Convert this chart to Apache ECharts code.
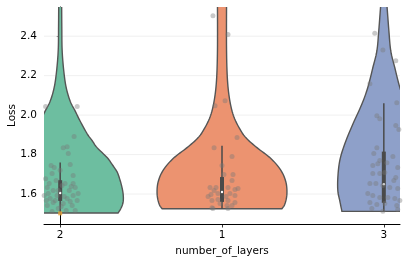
<!DOCTYPE html>
<html><head><meta charset="utf-8">
<script src="https://cdn.jsdelivr.net/npm/echarts@6/dist/echarts.min.js"></script>
<style>html,body{margin:0;padding:0;background:#fff}#c{width:407px;height:262px}</style>
</head><body><div id="c"></div>
<script>
// ---- data ----
const categories = ['2', '1', '3'];
const yTicks = [1.6, 1.8, 2.0, 2.2, 2.4];

// violin density outlines: [loss value, half width in category units]
const violin2 = [[1.504,0.358],[1.53,0.377],[1.56,0.389],[1.6,0.389],[1.65,0.377],[1.7,0.358],[1.72,0.346],[1.75,0.321],[1.785,0.29],[1.835,0.228],[1.87,0.198],[1.905,0.167],[1.97,0.123],[2.02,0.093],[2.07,0.062],[2.14,0.037],[2.225,0.022],[2.33,0.012],[2.45,0.01],[2.56,0.009]];
const violin1 = [[1.525,0.37],[1.55,0.389],[1.6,0.401],[1.66,0.395],[1.72,0.364],[1.78,0.302],[1.835,0.216],[1.88,0.154],[1.92,0.117],[1.99,0.074],[2.07,0.049],[2.175,0.034],[2.33,0.028],[2.56,0.028]];
const violin3 = [[1.512,0.259],[1.565,0.272],[1.615,0.284],[1.685,0.284],[1.77,0.272],[1.855,0.241],[1.955,0.191],[2.055,0.136],[2.14,0.099],[2.24,0.068],[2.325,0.043],[2.43,0.031],[2.56,0.019]];

// box stats per category (order of categories)
const boxLow  = [1.504, 1.525, 1.512];
const boxQ1   = [1.565, 1.56, 1.555];
const boxMed  = [1.605, 1.61, 1.65];
const boxQ3   = [1.67, 1.686, 1.815];
const boxHigh = [1.76, 1.845, 2.06];

// jittered points: [offset from category centre, loss]
const points2 = [[-0.09,2.043],[0.105,2.043],[0.086,1.891],[0.019,1.835],[0.043,1.84],[0.05,1.805],[0.062,1.75],[-0.056,1.744],[-0.037,1.734],[-0.05,1.704],[0.08,1.694],[-0.09,1.678],[-0.025,1.668],[0.03,1.653],[0.08,1.653],[0.093,1.633],[-0.08,1.633],[-0.043,1.618],[0.056,1.618],[-0.074,1.603],[-0.019,1.592],[0.08,1.592],[-0.062,1.577],[0.043,1.577],[0.105,1.567],[-0.043,1.557],[0.019,1.552],[0.074,1.542],[-0.08,1.542],[-0.012,1.527],[0.093,1.516],[-0.05,1.511],[0.012,1.643],[-0.012,1.618],[0.025,1.587],[-0.031,1.567],[0.062,1.562],[0.006,1.537],[0.037,1.516],[-0.068,1.653],[0.068,1.638],[0.0,1.72],[-0.099,1.592],[0.111,1.603],[-0.086,1.567]];
const points1 = [[-0.056,2.504],[0.037,2.408],[0.019,2.073],[-0.043,2.048],[0.093,1.886],[-0.049,1.835],[0.062,1.79],[0.0,1.744],[0.012,1.699],[0.068,1.699],[0.062,1.668],[-0.074,1.633],[-0.037,1.633],[0.037,1.633],[0.08,1.623],[0.099,1.628],[-0.068,1.597],[-0.025,1.603],[0.049,1.603],[0.08,1.592],[-0.062,1.567],[-0.025,1.572],[0.037,1.567],[0.08,1.557],[-0.056,1.527],[0.031,1.542],[0.062,1.542],[-0.062,1.53],[0.037,1.527],[-0.049,1.618],[0.025,1.587],[-0.012,1.552],[-0.086,1.587]];
const points3 = [[-0.056,2.415],[-0.006,2.33],[0.074,2.275],[-0.086,2.159],[0.08,2.063],[-0.043,1.997],[-0.025,1.982],[0.074,1.947],[0.093,1.927],[-0.043,1.835],[-0.062,1.805],[0.056,1.79],[-0.025,1.77],[-0.068,1.744],[-0.037,1.754],[0.019,1.759],[0.086,1.734],[-0.068,1.704],[-0.025,1.704],[0.006,1.709],[0.074,1.684],[0.062,1.668],[-0.086,1.653],[-0.049,1.653],[-0.006,1.643],[0.037,1.633],[0.086,1.628],[-0.099,1.603],[-0.068,1.592],[-0.025,1.582],[0.025,1.582],[0.068,1.577],[0.099,1.567],[-0.086,1.557],[-0.043,1.547],[0.006,1.552],[0.08,1.542],[-0.006,1.513],[0.086,1.522],[-0.074,1.527]];
const flierPoint = [[0, 1.502]];

// ---- rendering ----
const violins = [violin2, violin1, violin3];
const pointSets = [points2, points1, points3];
const colors = ['#6dbea0', '#ec9370', '#8ea0c9'];

function spline(pts) {
  if (pts.length < 3) return pts;
  const out = [];
  for (let i = 0; i < pts.length - 1; i++) {
    const p0 = pts[Math.max(0, i - 1)], p1 = pts[i], p2 = pts[i + 1], p3 = pts[Math.min(pts.length - 1, i + 2)];
    const n = 8;
    for (let k = 0; k < n; k++) {
      const t = k / n, t2 = t * t, t3 = t2 * t;
      const f = (a, b, c, d) => 0.5 * ((2 * b) + (-a + c) * t + (2 * a - 5 * b + 4 * c - d) * t2 + (-a + 3 * b - 3 * c + d) * t3);
      out.push([f(p0[0], p1[0], p2[0], p3[0]), f(p0[1], p1[1], p2[1], p3[1])]);
    }
  }
  out.push(pts[pts.length - 1]);
  return out;
}

const scatterData = [];
pointSets.forEach((set, i) => set.forEach(p => scatterData.push([i + p[0], p[1]])));

const boxData = categories.map((c, i) => [i, boxLow[i], boxQ1[i], boxMed[i], boxQ3[i], boxHigh[i]]);

const FONT = 'DejaVu Sans';
const chart = echarts.init(document.getElementById('c'), null, {renderer: 'canvas'});
chart.setOption({
  animation: false,
  backgroundColor: '#fff',
  grid: {left: 44, top: 7, width: 356, height: 217, containLabel: false, outerBoundsMode: 'none'},
  xAxis: {
    type: 'value', min: -0.1, max: 2.1,
    name: 'number_of_layers', nameLocation: 'middle', nameGap: 20,
    nameTextStyle: {fontFamily: FONT, fontSize: 10.5, color: '#000'},
    axisLine: {show: true, lineStyle: {color: '#000', width: 1}},
    axisTick: {show: true, customValues: [0, 1, 2], length: 3.5, lineStyle: {color: '#000', width: 0.8}},
    axisLabel: {customValues: [0, 1, 2], formatter: v => categories[Math.round(v)], fontFamily: FONT, fontSize: 10.5, color: '#000', margin: 6},
    splitLine: {show: false}
  },
  yAxis: {
    type: 'value', min: 1.448, max: 2.548,
    name: 'Loss', nameLocation: 'middle', nameGap: 26, nameRotate: 90, nameMoveOverlap: false,
    nameTextStyle: {fontFamily: FONT, fontSize: 10.5, color: '#000'},
    axisLine: {show: true, lineStyle: {color: '#000', width: 1}},
    axisTick: {show: true, customValues: yTicks, length: 3.5, lineStyle: {color: '#000', width: 0.8}},
    axisLabel: {customValues: yTicks, formatter: v => v.toFixed(1), fontFamily: FONT, fontSize: 10.5, color: '#000', margin: 7},
    splitLine: {show: false}
  },
  series: [
    {
      type: 'custom', z: 1, silent: true,
      data: yTicks.map(v => [0, v]),
      renderItem: (params, api) => {
        const v = api.value(1);
        const a = api.coord([-0.1, v]), b = api.coord([2.1, v]);
        return {type: 'line', shape: {x1: a[0], y1: a[1], x2: b[0], y2: b[1]}, style: {stroke: '#ececec', lineWidth: 0.8}};
      }
    },
    {
      type: 'custom', z: 2, clip: true, silent: true,
      data: categories.map((c, i) => [i, 2]),
      renderItem: (params, api) => {
        const i = api.value(0);
        const prof = violins[i];
        const right = spline(prof.map(p => api.coord([i + p[1], p[0]])));
        const left = spline(prof.map(p => api.coord([i - p[1], p[0]]))).reverse();
        return {type: 'polygon', shape: {points: right.concat(left)}, style: {fill: colors[i], stroke: '#555', lineWidth: 1.4}};
      }
    },
    {
      type: 'custom', z: 3, clip: true, silent: true,
      data: boxData,
      renderItem: (params, api) => {
        const i = api.value(0);
        const lo = api.coord([i, api.value(1)]), q1 = api.coord([i, api.value(2)]), md = api.coord([i, api.value(3)]), q3 = api.coord([i, api.value(4)]), hi = api.coord([i, api.value(5)]);
        return {type: 'group', children: [
          {type: 'line', shape: {x1: lo[0], y1: lo[1], x2: hi[0], y2: hi[1]}, style: {stroke: '#4a4a4a', lineWidth: 1.5}},
          {type: 'rect', shape: {x: q3[0] - 2, y: q3[1], width: 4, height: q1[1] - q3[1]}, style: {fill: '#4a4a4a'}},
          {type: 'circle', shape: {cx: md[0], cy: md[1], r: 1.2}, style: {fill: '#fff'}}
        ]};
      }
    },
    {
      type: 'scatter', z: 4, silent: true,
      data: scatterData, symbolSize: 5,
      itemStyle: {color: 'rgba(120,120,120,0.5)'}
    },
    {
      type: 'scatter', z: 5, silent: true,
      data: flierPoint, symbol: 'rect', symbolSize: 4,
      itemStyle: {color: '#e8a23a'}
    }
  ]
});
</script>
</body></html>
